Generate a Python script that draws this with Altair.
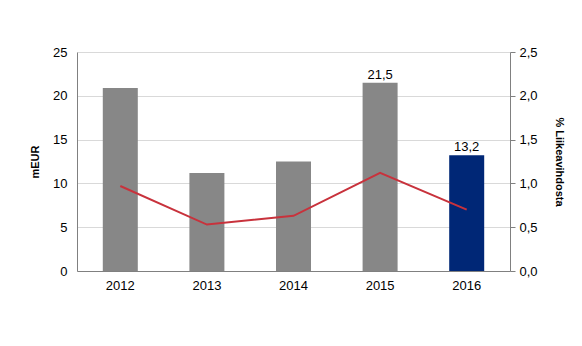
import altair as alt
import pandas as pd

years = ["2012", "2013", "2014", "2015", "2016"]
meur = [20.9, 11.2, 12.5, 21.5, 13.2]
pct = [0.97, 0.53, 0.63, 1.12, 0.70]
bar_labels = ["", "", "", "21,5", "13,2"]
bar_colors = ["#878787", "#878787", "#878787", "#878787", "#002776"]

df = pd.DataFrame({"year": years, "meur": meur, "pct": pct,
                   "label": bar_labels, "color": bar_colors})

FONT = "Liberation Sans"

x = alt.X("year:N", title=None, sort=years,
          scale=alt.Scale(paddingInner=0.0, paddingOuter=0.0),
          axis=alt.Axis(labelAngle=0, labelFontSize=13, labelFont=FONT,
                        labelColor="#000000", ticks=False, domainColor="#808080",
                        labelPadding=8))

yl = alt.Y("meur:Q", title="mEUR",
           scale=alt.Scale(domain=[0, 25], nice=False),
           axis=alt.Axis(values=[0, 5, 10, 15, 20, 25], ticks=False,
                         labelFontSize=13, labelFont=FONT, labelColor="#000000",
                         titleFontSize=11, titleFont=FONT, titleFontWeight="bold",
                         titleColor="#000000", titlePadding=12, labelPadding=10,
                         domainColor="#808080", gridColor="#d9d9d9", grid=True))

bars = alt.Chart(df).mark_bar(size=35).encode(
    x=x, y=yl, color=alt.Color("color:N", scale=None))

text = alt.Chart(df).mark_text(dy=-8, fontSize=13, font=FONT, color="#000000").encode(
    x=x, y=yl, text="label:N")

yr = alt.Y("pct:Q", title="% Liikeavihdosta",
           scale=alt.Scale(domain=[0, 2.5], nice=False),
           axis=alt.Axis(orient="right", values=[0, 0.5, 1.0, 1.5, 2.0, 2.5],
                         labelExpr="replace(format(datum.value, '.1f'), '.', ',')",
                         tickSize=5, tickColor="#808080", grid=False,
                         labelFontSize=13, labelFont=FONT, labelColor="#000000",
                         titleFontSize=11, titleFont=FONT, titleFontWeight="bold",
                         titleColor="#000000", titlePadding=16, labelPadding=4,
                         domainColor="#808080"))

line = alt.Chart(df).mark_line(color="#C8323C", strokeWidth=2).encode(x=x, y=yr)

left = alt.layer(bars, text)
chart = alt.layer(left, line).resolve_scale(y="independent").properties(
    width=433, height=219,
    autosize=alt.AutoSizeParams(type="none"),
    padding={"left": 77, "top": 52, "right": 72, "bottom": 75},
    background="#ffffff",
).configure_view(stroke=None)

chart.save("out.html", embed_options={"renderer": "svg", "actions": False})
